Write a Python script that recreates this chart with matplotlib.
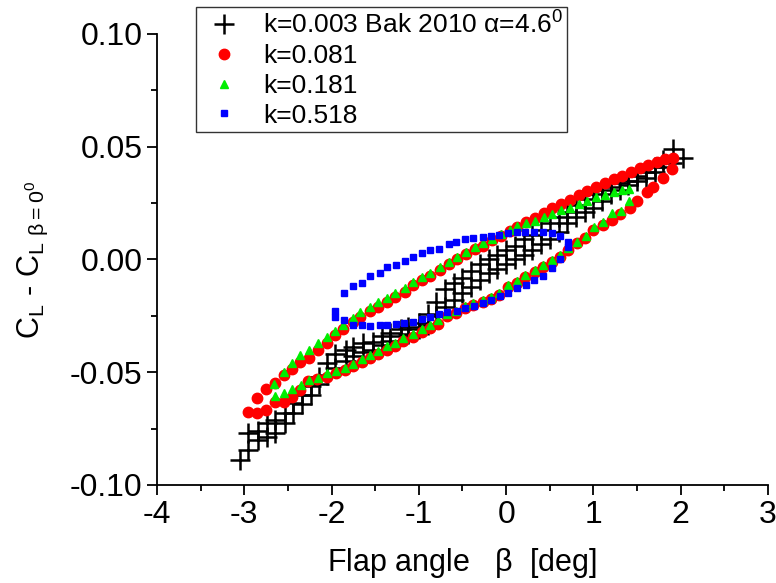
import matplotlib
matplotlib.use('Agg')
import matplotlib.pyplot as plt
from matplotlib.ticker import MultipleLocator

plt.rcParams['font.family'] = ['Liberation Sans', 'DejaVu Sans']
plt.rcParams['mathtext.default'] = 'regular'
plt.rcParams['axes.unicode_minus'] = False

# k=0.003 (Bak 2010), two branches of the loop
bak_up_x = [-2.96, -2.84, -2.74, -2.65, -2.53, -2.44, -2.34, -2.24, -2.14, -2.05, -1.96, -1.84, -1.75,
            -1.64, -1.53, -1.42, -1.33, -1.21, -1.12, -1.0, -0.9, -0.8, -0.7, -0.6, -0.5, -0.4, -0.3,
            -0.2, -0.1, 0.0, 0.1, 0.2, 0.3, 0.4, 0.5, 0.6, 0.7, 0.8, 0.9, 1.0, 1.1, 1.2, 1.3, 1.4, 1.5,
            1.6, 1.7, 1.8, 1.91]
bak_up_y = [-0.0770, -0.0760, -0.0725, -0.0710, -0.0680, -0.0636, -0.0600, -0.0560, -0.0520, -0.0460,
            -0.0420, -0.0400, -0.0390, -0.0370, -0.0366, -0.0340, -0.0326, -0.0310, -0.0300, -0.0280,
            -0.0240, -0.0190, -0.0130, -0.0105, -0.0080, -0.0050, -0.0020, 0.0000, 0.0020, 0.0040,
            0.0060, 0.0090, 0.0110, 0.0130, 0.0160, 0.0190, 0.0210, 0.0240, 0.0270, 0.0290, 0.0310,
            0.0320, 0.0340, 0.0350, 0.0370, 0.0390, 0.0410, 0.0440, 0.0490]
bak_dn_x = [-3.05, -2.96, -2.84, -2.74, -2.65, -2.53, -2.44, -2.34, -2.24, -2.14, -2.05, -1.96, -1.84,
            -1.75, -1.64, -1.53, -1.42, -1.33, -1.21, -1.12, -1.0, -0.9, -0.8, -0.7, -0.6, -0.5, -0.4,
            -0.3, -0.2, -0.1, 0.0, 0.1, 0.2, 0.3, 0.4, 0.5, 0.6, 0.7, 0.8, 0.9, 1.0, 1.1, 1.2, 1.3, 1.4,
            1.5, 1.6, 1.7, 1.8, 1.9, 2.03]
bak_dn_y = [-0.0890, -0.0845, -0.0800, -0.0787, -0.0770, -0.0725, -0.0680, -0.0640, -0.0600, -0.0550,
            -0.0510, -0.0480, -0.0450, -0.0430, -0.0410, -0.0400, -0.0380, -0.0360, -0.0340, -0.0330,
            -0.0310, -0.0290, -0.0250, -0.0210, -0.0180, -0.0150, -0.0120, -0.0090, -0.0060, -0.0040,
            -0.0020, 0.0000, 0.0020, 0.0040, 0.0070, 0.0090, 0.0120, 0.0160, 0.0190, 0.0210, 0.0230,
            0.0260, 0.0290, 0.0310, 0.0330, 0.0350, 0.0360, 0.0390, 0.0410, 0.0430, 0.0450]

# k=0.081
k081_x = [-2.96, -2.85, -2.75, -2.65, -2.55, -2.45, -2.36, -2.26, -2.15, -2.05, -1.96, -1.87, -1.76,
          -1.67, -1.56, -1.47, -1.36, -1.27, -1.16, -1.07, -0.96, -0.87, -0.76, -0.66, -0.56, -0.46,
          -0.36, -0.26, -0.16, -0.06, 0.04, 0.13, 0.23, 0.33, 0.43, 0.53, 0.63, 0.73, 0.83, 0.93, 1.03,
          1.13, 1.23, 1.33, 1.43, 1.53, 1.63, 1.73, 1.82, 1.91,
          1.90, 1.80, 1.68, 1.61, 1.50, 1.42, 1.31, 1.21, 1.11, 1.00, 0.90, 0.81, 0.71, 0.62, 0.53,
          0.42, 0.33, 0.22, 0.13, 0.02, -0.08, -0.17, -0.27, -0.38, -0.47, -0.57, -0.68, -0.78, -0.87,
          -0.96, -1.07, -1.18, -1.27, -1.36, -1.47, -1.56, -1.65, -1.75, -1.85, -1.95, -2.05, -2.17,
          -2.27, -2.36, -2.45, -2.55, -2.65, -2.75, -2.85]
k081_y = [-0.0676, -0.0614, -0.0574, -0.0547, -0.0510, -0.0486, -0.0455, -0.0437, -0.0400, -0.0372,
          -0.0335, -0.0310, -0.0277, -0.0255, -0.0230, -0.0210, -0.0190, -0.0166, -0.0144, -0.0115,
          -0.0092, -0.0072, -0.0045, -0.0020, 0.0000, 0.0025, 0.0045, 0.0062, 0.0085, 0.0105, 0.0125,
          0.0144, 0.0165, 0.0185, 0.0205, 0.0228, 0.0245, 0.0265, 0.0285, 0.0305, 0.0320, 0.0340,
          0.0355, 0.0372, 0.0390, 0.0405, 0.0418, 0.0432, 0.0445, 0.0450,
          0.0400, 0.0360, 0.0320, 0.0300, 0.0260, 0.0230, 0.0200, 0.0175, 0.0153, 0.0130, 0.0095,
          0.0073, 0.0042, 0.0011, -0.0011, -0.0033, -0.0055, -0.0078, -0.0104, -0.0120, -0.0157,
          -0.0175, -0.0188, -0.0200, -0.0217, -0.0237, -0.0250, -0.0285, -0.0305, -0.0322, -0.0342,
          -0.0362, -0.0385, -0.0400, -0.0420, -0.0437, -0.0453, -0.0473, -0.0490, -0.0505, -0.0520,
          -0.0530, -0.0540, -0.0580, -0.0610, -0.0630, -0.0630, -0.0667, -0.0680]

# k=0.181
k181_x = [-2.66, -2.55, -2.45, -2.36, -2.26, -2.15, -2.05, -1.96, -1.87, -1.76, -1.67, -1.56, -1.47,
          -1.36, -1.27, -1.16, -1.07, -0.96, -0.87, -0.76, -0.66, -0.56, -0.46, -0.36, -0.26, -0.16,
          -0.06, 0.04, 0.13, 0.23, 0.33, 0.43, 0.53, 0.63, 0.73, 0.83, 0.93, 1.03, 1.13, 1.23, 1.33,
          1.41,
          1.41, 1.32, 1.21, 1.11, 1.01, 0.92, 0.81, 0.71, 0.62, 0.53, 0.42, 0.33, 0.22, 0.13, 0.02,
          -0.08, -0.17, -0.27, -0.38, -0.47, -0.57, -0.68, -0.78, -0.87, -0.96, -1.07, -1.18, -1.27,
          -1.36, -1.47, -1.56, -1.65, -1.75, -1.85, -1.95, -2.05, -2.15, -2.26, -2.35, -2.45, -2.54,
          -2.65]
k181_y = [-0.0550, -0.0500, -0.0460, -0.0425, -0.0400, -0.0370, -0.0345, -0.0315, -0.0290, -0.0258,
          -0.0235, -0.0212, -0.0190, -0.0172, -0.0150, -0.0128, -0.0100, -0.0078, -0.0058, -0.0033,
          -0.0010, 0.0012, 0.0035, 0.0055, 0.0072, 0.0093, 0.0112, 0.0130, 0.0148, 0.0160, 0.0172,
          0.0190, 0.0200, 0.0218, 0.0230, 0.0246, 0.0258, 0.0275, 0.0288, 0.0300, 0.0308, 0.0312,
          0.0260, 0.0215, 0.0206, 0.0166, 0.0144, 0.0105, 0.0078, 0.0050, 0.0020, -0.0002, -0.0025,
          -0.0048, -0.0070, -0.0095, -0.0112, -0.0148, -0.0166, -0.0180, -0.0192, -0.0208, -0.0228,
          -0.0242, -0.0270, -0.0290, -0.0308, -0.0330, -0.0350, -0.0372, -0.0385, -0.0408, -0.0422,
          -0.0440, -0.0462, -0.0482, -0.0495, -0.0505, -0.0525, -0.0534, -0.0556, -0.0575, -0.0590,
          -0.0605]

# k=0.518
k518_x = [-1.96, -1.96, -1.86, -1.75, -1.65, -1.56, -1.45, -1.36, -1.26, -1.16, -1.07, -0.96, -0.87,
          -0.77, -0.66, -0.57, -0.47, -0.38, -0.27, -0.17, -0.08, 0.02, 0.13, 0.22, 0.32, 0.42, 0.53,
          0.62, 0.71, 0.71,
          0.62, 0.53, 0.42, 0.32, 0.23, 0.13, 0.02, -0.07, -0.17, -0.26, -0.37, -0.47, -0.56, -0.68,
          -0.77, -0.87, -0.96, -1.07, -1.17, -1.26, -1.36, -1.45, -1.56, -1.65, -1.75, -1.86]
k518_y = [-0.0255, -0.0230, -0.0148, -0.0118, -0.0104, -0.0075, -0.0058, -0.0035, -0.0024, -0.0005,
          0.0012, 0.0030, 0.0042, 0.0048, 0.0069, 0.0078, 0.0090, 0.0095, 0.0100, 0.0104, 0.0109,
          0.0118, 0.0122, 0.0122, 0.0122, 0.0124, 0.0118, 0.0102, 0.0078, 0.0055,
          0.0002, -0.0038, -0.0075, -0.0090, -0.0115, -0.0126, -0.0149, -0.0162, -0.0180, -0.0193,
          -0.0206, -0.0215, -0.0228, -0.0233, -0.0242, -0.0255, -0.0264, -0.0275, -0.0280, -0.0288,
          -0.0290, -0.0290, -0.0295, -0.0290, -0.0290, -0.0270]

fig = plt.figure(figsize=(7.76, 5.83), dpi=100)
ax = fig.add_axes([0.2023, 0.1681, 0.7874, 0.7736])

ax.plot(bak_up_x + bak_dn_x, bak_up_y + bak_dn_y, ls='none', marker='+', ms=14, mew=1.8,
        color='black', label=r'k=0.003 Bak 2010 $\alpha$=4.6$^0$')
ax.plot(k081_x, k081_y, ls='none', marker='o', ms=7.5, color='#ff0000', mec='#ff0000', label='k=0.081')
ax.plot(k181_x, k181_y, ls='none', marker='^', ms=5.5, color='#00ee00', mec='#00ee00', label='k=0.181')
ax.plot(k518_x, k518_y, ls='none', marker='s', ms=5, color='#0000ff', mec='#0000ff', label='k=0.518')

ax.set_xlim(-4, 3)
ax.set_ylim(-0.1, 0.1)
ax.xaxis.set_major_locator(MultipleLocator(1))
ax.xaxis.set_minor_locator(MultipleLocator(0.5))
ax.yaxis.set_major_locator(MultipleLocator(0.05))
ax.yaxis.set_minor_locator(MultipleLocator(0.025))
ax.yaxis.set_major_formatter(plt.FuncFormatter(lambda v, p: '%.2f' % v))

for s in ['top', 'right']:
    ax.spines[s].set_visible(False)
for s in ['left', 'bottom']:
    ax.spines[s].set_linewidth(1.3)
ax.tick_params(which='major', direction='out', length=7, width=1.3, labelsize=23)
ax.tick_params(which='minor', direction='out', length=4, width=1.3)

ax.set_xlabel(r'Flap angle   $\beta$  [deg]', fontsize=22, labelpad=12)
ax.set_ylabel(r'C$_L$ - C$_{L\ \beta=0^0}$', fontsize=22, labelpad=14)

leg = ax.legend(loc='upper left', bbox_to_anchor=(196 / 776, 1 - 7 / 583), bbox_transform=fig.transFigure,
                fontsize=19, frameon=True, fancybox=False, borderpad=0.15, labelspacing=0.22,
                handletextpad=0.6, borderaxespad=0, handlelength=1.8)
leg.get_frame().set_edgecolor('black')
leg.get_frame().set_linewidth(1.0)

fig.savefig('out.png', dpi=100)
